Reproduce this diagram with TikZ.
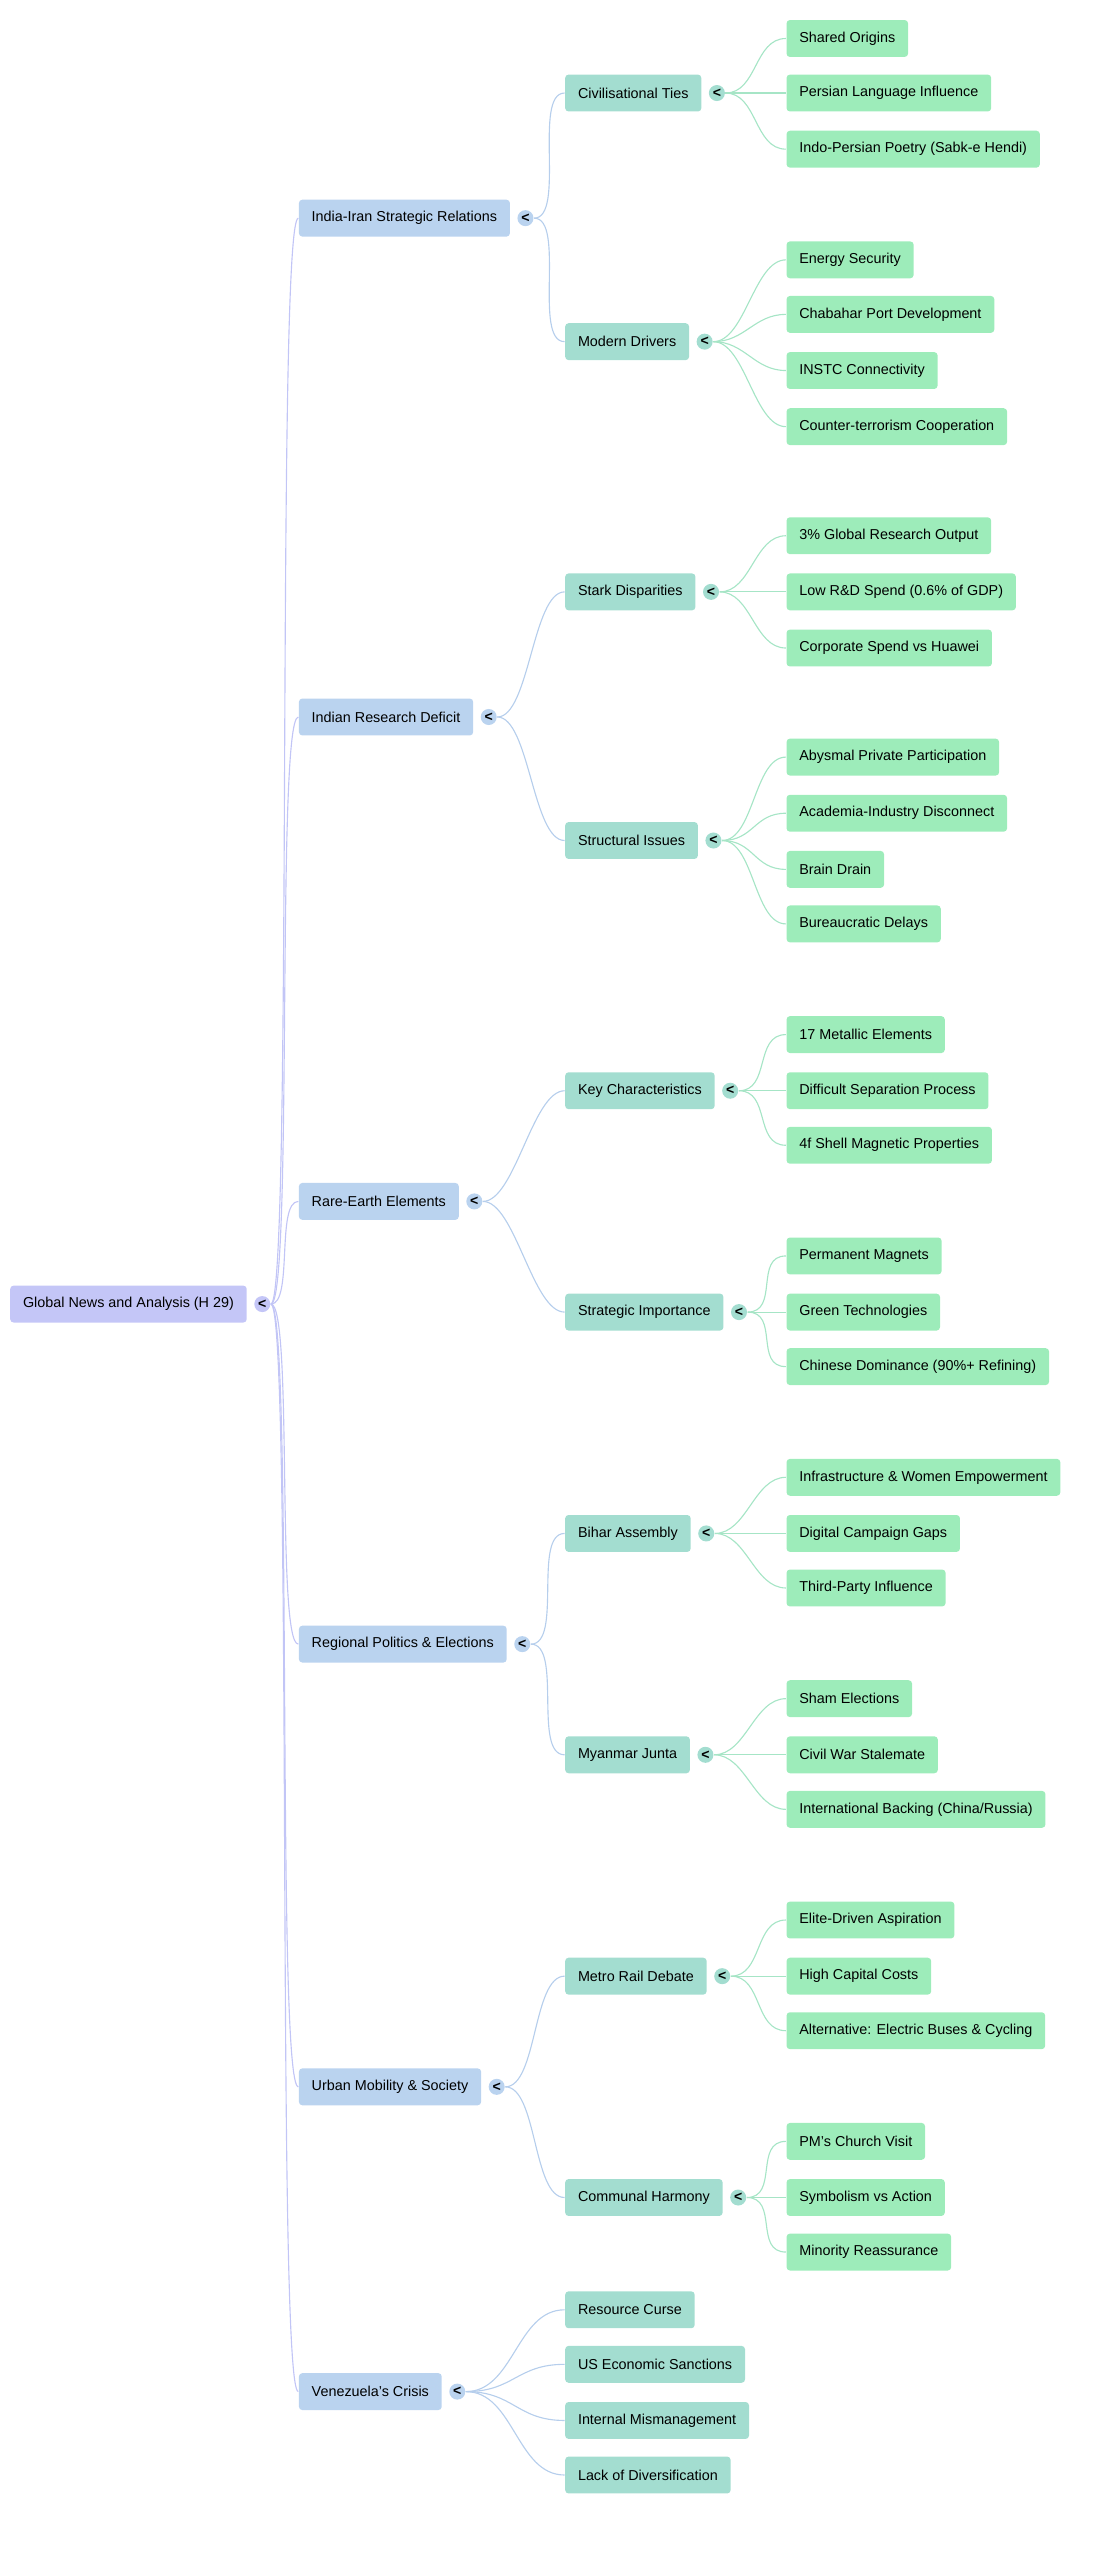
\documentclass[tikz,border=0pt]{standalone}
\usepackage{fontspec}
\setmainfont{Liberation Sans}
\usetikzlibrary{positioning}
\definecolor{rootc}{HTML}{C4C6F7}
\definecolor{lonec}{HTML}{BAD3EF}
\definecolor{ltwoc}{HTML}{A3DDD0}
\definecolor{leafc}{HTML}{9DECBA}
\definecolor{rootl}{HTML}{C2C5F6}
\definecolor{lonel}{HTML}{B6CEEC}
\definecolor{ltwol}{HTML}{A6E5C6}
\begin{document}
\begin{tikzpicture}[x=0.02cm,y=-0.02cm,font=\fontsize{5.1}{6}\selectfont]
    \tikzstyle{box}=[rounded corners=1.2pt,minimum height=0.46cm,inner xsep=0.16cm,anchor=west]
    \tikzstyle{root}=[box,fill=rootc]
    \tikzstyle{lone}=[box,fill=lonec]
    \tikzstyle{ltwo}=[box,fill=ltwoc]
    \tikzstyle{leaf}=[box,fill=leafc]
    \tikzstyle{knob}=[circle,inner sep=0pt,minimum size=0.2cm,font=\fontsize{5}{5}\selectfont\bfseries]
    \useasboundingbox (0,0) rectangle (690,1596);

    % Root
    \node[root] (R) at (6,813) {Global News and Analysis (H 29)};
    \node[knob,fill=rootc,right=0.08cm of R] (R-c) {<};

    % First level
    \foreach \n/\y/\t in {A/136/India-Iran Strategic Relations,
                          B/447/Indian Research Deficit,
                          C/749/Rare-Earth Elements,
                          D/1025/Regional Politics \& Elections,
                          E/1301/Urban Mobility \& Society,
                          F/1491/Venezuela's Crisis}{
        \node[lone] (\n) at (186,\y) {\t};
        \node[knob,fill=lonec,right=0.08cm of \n] (\n-c) {<};
        \draw[rootl,thin] (R-c.east) .. controls +(14,0) and +(-14,0) .. (\n.west);
    }

    % Second level
    \foreach \n/\p/\y/\t in {A1/A/58/Civilisational Ties,
                             A2/A/213/Modern Drivers,
                             B1/B/369/Stark Disparities,
                             B2/B/524/Structural Issues,
                             C1/C/680/Key Characteristics,
                             C2/C/818/Strategic Importance,
                             D1/D/956/Bihar Assembly,
                             D2/D/1094/Myanmar Junta,
                             E1/E/1232/Metro Rail Debate,
                             E2/E/1370/Communal Harmony}{
        \node[ltwo] (\n) at (352,\y) {\t};
        \node[knob,fill=ltwoc,right=0.08cm of \n] (\n-c) {<};
        \draw[lonel,thin] (\p-c.east) .. controls +(20,0) and +(-20,0) .. (\n.west);
    }

    % Venezuela leaves
    \foreach \n/\y/\t in {F1/1440/Resource Curse,
                          F2/1474/US Economic Sanctions,
                          F3/1509/Internal Mismanagement,
                          F4/1543/Lack of Diversification}{
        \node[ltwo] (\n) at (352,\y) {\t};
        \draw[lonel,thin] (F-c.east) .. controls +(30,0) and +(-30,0) .. (\n.west);
    }

    % Third level
    \foreach \n/\p/\y/\t in {L1/A1/24/Shared Origins,
                             L2/A1/58/Persian Language Influence,
                             L3/A1/93/Indo-Persian Poetry (Sabk-e Hendi),
                             L4/A2/162/Energy Security,
                             L5/A2/196/Chabahar Port Development,
                             L6/A2/231/INSTC Connectivity,
                             L7/A2/266/Counter-terrorism Cooperation,
                             L8/B1/334/3\% Global Research Output,
                             L9/B1/369/Low R\&D Spend (0.6\% of GDP),
                             L10/B1/404/Corporate Spend vs Huawei,
                             L11/B2/472/Abysmal Private Participation,
                             L12/B2/507/Academia-Industry Disconnect,
                             L13/B2/542/Brain Drain,
                             L14/B2/576/Bureaucratic Delays,
                             L15/C1/645/17 Metallic Elements,
                             L16/C1/680/Difficult Separation Process,
                             L17/C1/714/4f Shell Magnetic Properties,
                             L18/C2/783/Permanent Magnets,
                             L19/C2/818/Green Technologies,
                             L20/C2/852/{Chinese Dominance (90\%+ Refining)},
                             L21/D1/921/Infrastructure \& Women Empowerment,
                             L22/D1/956/Digital Campaign Gaps,
                             L23/D1/990/Third-Party Influence,
                             L24/D2/1059/Sham Elections,
                             L25/D2/1094/Civil War Stalemate,
                             L26/D2/1128/{International Backing (China/Russia)},
                             L27/E1/1197/Elite-Driven Aspiration,
                             L28/E1/1232/High Capital Costs,
                             L29/E1/1266/Alternative: Electric Buses \& Cycling,
                             L30/E2/1335/PM's Church Visit,
                             L31/E2/1370/Symbolism vs Action,
                             L32/E2/1404/Minority Reassurance}{
        \node[leaf] (\n) at (490,\y) {\t};
        \draw[ltwol,thin] (\p-c.east) .. controls +(20,0) and +(-20,0) .. (\n.west);
    }
\end{tikzpicture}
\end{document}
